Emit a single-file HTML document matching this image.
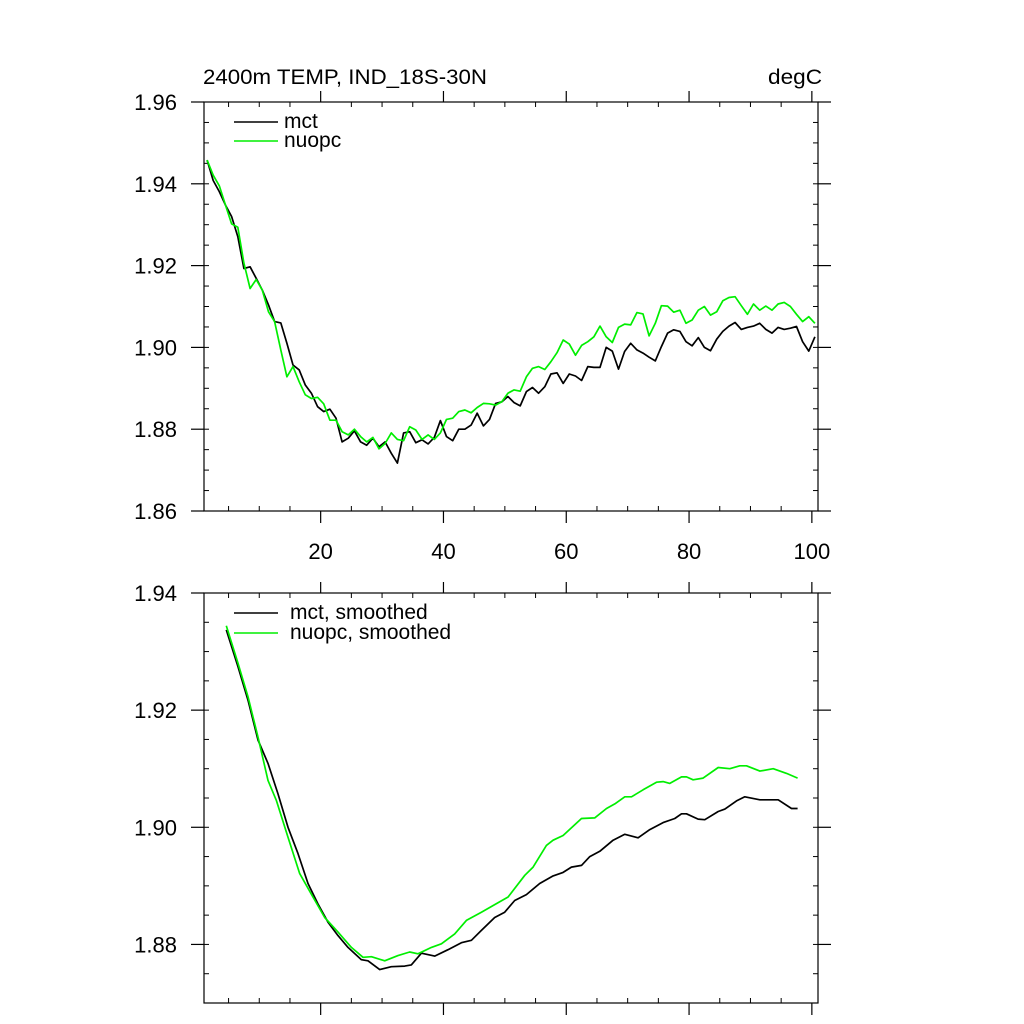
<!DOCTYPE html>
<html><head><meta charset="utf-8"><style>
html,body{margin:0;padding:0;background:#fff;}
svg{display:block;font-family:"Liberation Sans",Arial,sans-serif;}
</style></head><body>
<svg id="chart" width="1024" height="1024" viewBox="0 0 1024 1024">
<text x="203" y="84" font-size="21" textLength="284" lengthAdjust="spacingAndGlyphs">2400m TEMP, IND_18S-30N</text>
<text x="768" y="84" font-size="21" textLength="54" lengthAdjust="spacingAndGlyphs">degC</text>
<g id="top"></g>
<g id="bot"></g>
</svg>
<script>
const mctRaw=[1.9458,1.9408,1.9381,1.9348,1.9320,1.9271,1.9193,1.9197,1.9169,1.9140,1.9104,1.9063,1.9060,1.9010,1.8957,1.8945,1.8908,1.8888,1.8855,1.8843,1.8849,1.8827,1.8769,1.8778,1.8796,1.8769,1.8761,1.8778,1.8757,1.8769,1.8741,1.8717,1.8791,1.8794,1.8767,1.8774,1.8764,1.8780,1.8821,1.8782,1.8772,1.8800,1.8800,1.8810,1.8839,1.8808,1.8824,1.8863,
1.8867,1.8880,1.8865,1.8857,1.8892,1.8902,1.8888,1.8904,1.8935,1.8938,1.8912,1.8935,1.8930,1.8919,1.8953,1.8951,1.8951,1.9000,1.8991,1.8947,1.8990,1.9010,1.8994,1.8986,1.8976,1.8967,1.9002,1.9035,1.9043,1.9039,1.9014,1.9004,1.9024,1.9000,1.8992,1.9020,1.9039,1.9052,1.9061,1.9044,1.9049,1.9052,1.9059,1.9044,1.9035,1.9049,1.9044,1.9047,1.9051,1.9014,1.8991,1.9026];
const nuopcRaw=[1.9458,1.9421,1.9395,1.9348,1.9302,1.9294,1.9206,1.9144,1.9166,1.9140,1.9087,1.9063,1.8994,1.8928,1.8953,1.8916,1.8884,1.8875,1.8878,1.8862,1.8822,1.8822,1.8794,1.8786,1.8800,1.8782,1.8769,1.8780,1.8752,1.8765,1.8791,1.8775,1.8772,1.8806,1.8798,1.8775,1.8786,1.8775,1.8791,1.8824,1.8827,1.8843,1.8847,1.8840,1.8853,1.8863,1.8862,1.8859,
1.8867,1.8888,1.8896,1.8893,1.8928,1.8949,1.8953,1.8946,1.8965,1.8987,1.9018,1.9008,1.8981,1.9005,1.9014,1.9026,1.9052,1.9026,1.9012,1.9049,1.9057,1.9055,1.9085,1.9082,1.9028,1.9059,1.9102,1.9101,1.9086,1.9091,1.9059,1.9067,1.9091,1.9100,1.9079,1.9087,1.9114,1.9122,1.9124,1.9102,1.9081,1.9106,1.9091,1.9101,1.9091,1.9106,1.9110,1.9100,1.9081,1.9063,1.9075,1.9059];
const mctSmX=[4.63,6.53,8.16,9.79,11.42,13.05,14.68,16.31,17.94,19.57,21.20,22.82,24.45,26.63,27.71,29.61,31.51,33.69,34.77,36.40,38.57,40.74,42.92,44.55,46.18,48.35,49.98,51.61,53.51,55.68,57.85,59.48,60.84,62.48,63.83,65.46,67.63,69.53,71.70,73.61,75.77,77.68,78.77,79.58,81.48,82.57,84.74,85.83,87.73,89.08,91.53,94.51,96.69,97.67];
const mctSmY=[1.9337,1.9274,1.9217,1.9149,1.9109,1.9057,1.9000,1.8955,1.8904,1.8869,1.8838,1.8815,1.8795,1.8774,1.8772,1.8757,1.8762,1.8763,1.8765,1.8785,1.8780,1.8791,1.8803,1.8807,1.8824,1.8846,1.8855,1.8875,1.8885,1.8904,1.8917,1.8923,1.8932,1.8935,1.8950,1.8959,1.8978,1.8988,1.8982,1.8996,1.9008,1.9015,1.9023,1.9023,1.9014,1.9013,1.9027,1.9031,1.9045,1.9052,1.9047,1.9047,1.9032,1.9032];
const nuSmX=[4.63,6.53,8.16,9.79,11.42,12.78,14.68,16.58,18.48,20.65,22.82,25.0,26.90,28.26,30.43,32.60,34.50,35.86,38.04,39.67,41.83,43.74,46.18,48.35,50.52,53.24,54.60,56.77,57.85,59.48,62.48,64.64,66.55,67.90,69.53,70.62,72.52,74.70,75.77,76.86,78.77,79.58,80.66,82.29,84.74,86.64,88.27,89.36,91.53,93.70,95.88,97.67];
const nuSmY=[1.9344,1.9280,1.9223,1.9154,1.9080,1.9046,1.8983,1.8921,1.8886,1.8846,1.8821,1.8795,1.8778,1.8779,1.8772,1.8781,1.8787,1.8784,1.8795,1.8801,1.8818,1.8841,1.8855,1.8868,1.8881,1.8918,1.8932,1.8969,1.8978,1.8986,1.9015,1.9016,1.9032,1.9040,1.9052,1.9052,1.9064,1.9077,1.9078,1.9075,1.9086,1.9086,1.9081,1.9084,1.9102,1.9100,1.9105,1.9105,1.9096,1.9100,1.9092,1.9084];
const topYTicks=["1.86","1.88","1.90","1.92","1.94","1.96"];
const botYTicks=["1.88","1.90","1.92","1.94"];
const xTickLabels=["20","40","60","80","100"];

const NS="http://www.w3.org/2000/svg";
const L=204,R=818;
function sx(x){return L+(x-1)/100*(R-L);}
function mk(g,tag,attrs){const e=document.createElementNS(NS,tag);for(const k in attrs)e.setAttribute(k,attrs[k]);g.appendChild(e);return e;}

function panel(g,T,B,ymin,ymax,yt,xlab,prefix){
  const sy=v=>B-(v-ymin)/(ymax-ymin)*(B-T);
  const fr=mk(g,'rect',{x:L,y:T,width:R-L,height:B-T,fill:'none',stroke:'#000','stroke-width':1.2});
  
  
  for(let v=ymin;v<=ymax+1e-9;v+=0.005){
    const y=sy(v);
    mk(g,'line',{x1:L,x2:L+5,y1:y,y2:y,stroke:'#000'});
    mk(g,'line',{x1:R-5,x2:R,y1:y,y2:y,stroke:'#000'});
  }
  yt.forEach(s=>{
    const v=parseFloat(s),y=sy(v);
    mk(g,'line',{x1:L-13,x2:L,y1:y,y2:y,stroke:'#000','stroke-width':1.2});
    mk(g,'line',{x1:R,x2:R+13,y1:y,y2:y,stroke:'#000','stroke-width':1.2});
    const t=mk(g,'text',{x:177,y:y+8,'font-size':22,'text-anchor':'end'});
    t.textContent=s;
    
    
  });
  for(let x=5;x<=100;x+=5){
    const px=sx(x);
    if(x%20===0){
      mk(g,'line',{x1:px,x2:px,y1:T-11,y2:T,stroke:'#000','stroke-width':1.2});
      mk(g,'line',{x1:px,x2:px,y1:B,y2:B+12,stroke:'#000','stroke-width':1.2});
    }else{
      mk(g,'line',{x1:px,x2:px,y1:T,y2:T+5,stroke:'#000'});
      mk(g,'line',{x1:px,x2:px,y1:B-5,y2:B,stroke:'#000'});
    }
  }
  if(xlab){
    xTickLabels.forEach(s=>{
      const t=mk(g,'text',{x:sx(parseFloat(s)),y:B+48,'font-size':22,'text-anchor':'middle'});
      t.textContent=s;
      
      
    });
  }
  return sy;
}
function line(g,xs,ys,sy,color,name){
  const d=xs.map((x,i)=>(i?'L':'M')+sx(x).toFixed(1)+','+sy(ys[i]).toFixed(1)).join('');
  const p=mk(g,'path',{d:d,fill:'none',stroke:color,'stroke-width':1.7,'stroke-linejoin':'round'});
  
  
}
function legend(g,y0,dy,labels,colors,prefix,tx,fs){
  labels.forEach((s,i)=>{
    const y=y0+i*dy;
    const ln=mk(g,'line',{x1:234,x2:278,y1:y,y2:y,stroke:colors[i],'stroke-width':1.5});
    
    
    const t=mk(g,'text',{x:tx,y:y+6,'font-size':fs});
    t.textContent=s;
    
    
  });
}
const gt=document.getElementById('top'),gb=document.getElementById('bot');
const syT=panel(gt,102,511,1.86,1.96,topYTicks,true,'top');
const rawX=mctRaw.map((_,i)=>i+1.5);
line(gt,rawX,mctRaw,syT,'#000','mct-line');
line(gt,rawX,nuopcRaw,syT,'#00ee00','nuopc-line');
legend(gt,122,19,['mct','nuopc'],['#000','#00ee00'],'top',284,21);
const syB=panel(gb,593,1003,1.87,1.94,botYTicks,false,'bottom');
line(gb,mctSmX,mctSmY,syB,'#000','mct-smoothed-line');
line(gb,nuSmX,nuSmY,syB,'#00ee00','nuopc-smoothed-line');
legend(gb,613,20,['mct, smoothed','nuopc, smoothed'],['#000','#00ee00'],'bottom',290,21);
</script>
</body></html>
